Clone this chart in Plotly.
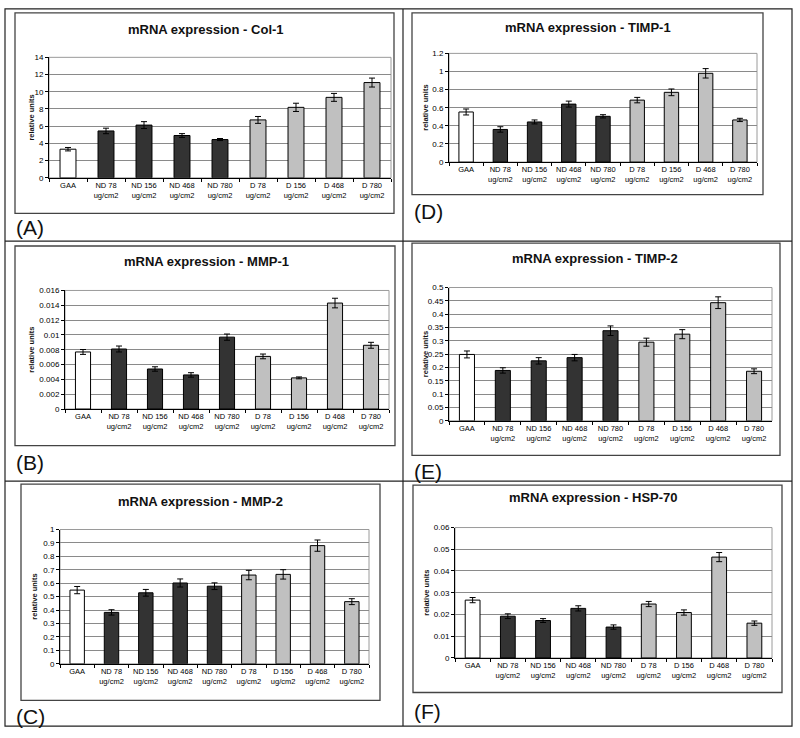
import plotly.graph_objects as go

W, H = 800, 738
FONT = "Arial, Liberation Sans, sans-serif"

categories = ["GAA", "ND 78", "ND 156", "ND 468", "ND 780", "D 78", "D 156", "D 468", "D 780"]
unit = "ug/cm2"
groups = ["GAA", "ND", "ND", "ND", "ND", "D", "D", "D", "D"]
group_colors = {"GAA": "#ffffff", "ND": "#333333", "D": "#c0c0c0"}

titles = ["mRNA expression - Col-1", "mRNA expression - TIMP-1", "mRNA expression - MMP-1",
          "mRNA expression - TIMP-2", "mRNA expression - MMP-2", "mRNA expression - HSP-70"]
letters = ["(A)", "(D)", "(B)", "(E)", "(C)", "(F)"]

col1_vals = [3.33, 5.45, 6.13, 4.92, 4.45, 6.73, 8.19, 9.35, 11.07]
col1_errs = [0.2, 0.32, 0.4, 0.22, 0.12, 0.4, 0.48, 0.46, 0.52]
timp1_vals = [0.553, 0.36, 0.443, 0.64, 0.505, 0.684, 0.77, 0.98, 0.465]
timp1_errs = [0.033, 0.03, 0.022, 0.033, 0.018, 0.03, 0.037, 0.052, 0.018]
mmp1_vals = [0.0077, 0.0081, 0.0054, 0.0046, 0.0097, 0.0071, 0.0042, 0.0143, 0.0086]
mmp1_errs = [0.00033, 0.0004, 0.0003, 0.0003, 0.00042, 0.00032, 0.00013, 0.00065, 0.0004]
timp2_vals = [0.249, 0.189, 0.225, 0.237, 0.338, 0.295, 0.325, 0.443, 0.186]
timp2_errs = [0.013, 0.01, 0.012, 0.012, 0.018, 0.015, 0.017, 0.022, 0.009]
mmp2_vals = [0.549, 0.383, 0.529, 0.602, 0.578, 0.661, 0.666, 0.88, 0.463]
mmp2_errs = [0.027, 0.02, 0.025, 0.03, 0.025, 0.035, 0.035, 0.042, 0.022]
hsp70_vals = [0.0266, 0.0192, 0.0172, 0.0228, 0.0142, 0.0248, 0.0209, 0.0464, 0.016]
hsp70_errs = [0.0012, 0.0011, 0.0009, 0.0012, 0.001, 0.0012, 0.0012, 0.0021, 0.001]

col1_ticks = [0, 2, 4, 6, 8, 10, 12, 14]
timp1_ticks = [0, 0.2, 0.4, 0.6, 0.8, 1, 1.2]
mmp1_ticks = [0, 0.002, 0.004, 0.006, 0.008, 0.01, 0.012, 0.014, 0.016]
timp2_ticks = [0, 0.05, 0.1, 0.15, 0.2, 0.25, 0.3, 0.35, 0.4, 0.45, 0.5]
mmp2_ticks = [0, 0.1, 0.2, 0.3, 0.4, 0.5, 0.6, 0.7, 0.8, 0.9, 1]
hsp70_ticks = [0, 0.01, 0.02, 0.03, 0.04, 0.05, 0.06]

values = [col1_vals, timp1_vals, mmp1_vals, timp2_vals, mmp2_vals, hsp70_vals]
errors = [col1_errs, timp1_errs, mmp1_errs, timp2_errs, mmp2_errs, hsp70_errs]
ticks = [col1_ticks, timp1_ticks, mmp1_ticks, timp2_ticks, mmp2_ticks, hsp70_ticks]

# layout geometry in pixels: plot area (l, r, t, b), chart box (l, r, t, b), title (x, y),
# y-title x, letter (x, y)
plots = [(49, 391, 54, 176), (449, 757, 50, 160), (65, 389, 290, 410),
         (449, 772, 287, 422), (60, 369, 532, 668), (455, 772, 530, 662)]
boxes = [(15, 394, 9, 212), (412, 763, 9, 193), (15, 395, 245, 447),
         (412, 780, 242, 457), (21, 380, 486, 705), (413, 782, 487, 697)]
title_pos = [(206, 26), (588, 24), (207, 261), (595, 258), (200, 504), (593, 500)]
ytitle_x = [32, 426, 32, 425, 35, 427]
letter_pos = [(14, 226), (412, 210), (14, 464), (412, 473), (14, 721), (412, 716)]

ticktext_x = [c if c == "GAA" else c + "<br>" + unit for c in categories]
bar_colors = [group_colors[g] for g in groups]

def px(x):
    return x / W

def py(y):
    return 1 - y / H

fig = go.Figure()
shapes = []
annotations = []

for i in range(6):
    n = "" if i == 0 else str(i + 1)
    xa, ya = "x" + n, "y" + n
    fig.add_trace(go.Bar(
        x=categories, y=values[i], xaxis=xa, yaxis=ya,
        marker=dict(color=bar_colors, line=dict(color="#000000", width=1)),
        error_y=dict(type="data", array=errors[i], color="#000000", thickness=1, width=3),
        showlegend=False,
    ))
    l, r, t, b = plots[i]
    tv = ticks[i]
    fig.layout["xaxis" + n] = dict(
        domain=[px(l), px(r)], anchor=ya, type="category",
        tickvals=categories, ticktext=ticktext_x, tickangle=0,
        tickfont=dict(family=FONT, size=7.5, color="#000000"),
        ticks="outside", ticklen=3, tickson="boundaries", tickcolor="#000000",
        showline=True, linecolor="#000000", linewidth=1, showgrid=False,
        range=[-0.5, 8.5], fixedrange=True,
    )
    fig.layout["yaxis" + n] = dict(
        domain=[py(b), py(t)], anchor=xa, range=[0, tv[-1]],
        tickvals=tv, ticktext=[f"{v:g}" for v in tv],
        tickfont=dict(family=FONT, size=8, color="#000000"),
        ticks="outside", ticklen=3, tickcolor="#000000",
        showline=True, linecolor="#000000", linewidth=1,
        showgrid=True, gridcolor="#8a8a8a", gridwidth=1, zeroline=False, fixedrange=True,
    )
    # plot area frame (gray)
    shapes.append(dict(type="rect", xref="paper", yref="paper",
                       x0=px(l), x1=px(r), y0=py(b), y1=py(t),
                       line=dict(color="#9a9a9a", width=1), layer="below"))
    # chart box
    bl, br, bt, bb = boxes[i]
    shapes.append(dict(type="rect", xref="paper", yref="paper",
                       x0=px(bl), x1=px(br), y0=py(bb), y1=py(bt),
                       line=dict(color="#444444", width=1.3), layer="below"))
    tx, ty = title_pos[i]
    annotations.append(dict(x=px(tx), y=py(ty), xref="paper", yref="paper",
                            text="<b>" + titles[i] + "</b>", showarrow=False,
                            xanchor="center", yanchor="middle",
                            font=dict(family=FONT, size=13, color="#111111")))
    annotations.append(dict(x=px(ytitle_x[i]), y=py((t + b) / 2), xref="paper", yref="paper",
                            text="<b>relative units</b>", showarrow=False, textangle=-90,
                            xanchor="center", yanchor="middle",
                            font=dict(family=FONT, size=7.5, color="#111111")))
    lx, ly = letter_pos[i]
    annotations.append(dict(x=px(lx), y=py(ly), xref="paper", yref="paper",
                            text=letters[i], showarrow=False,
                            xanchor="left", yanchor="middle",
                            font=dict(family=FONT, size=21, color="#111111")))

# outer table lines
line_style = dict(color="#222222", width=1.2)
shapes.append(dict(type="rect", xref="paper", yref="paper", x0=px(5), x1=px(792),
                   y0=py(731), y1=py(5), line=line_style, layer="below"))
shapes.append(dict(type="line", xref="paper", yref="paper", x0=px(403), x1=px(403),
                   y0=py(731), y1=py(5), line=line_style, layer="below"))
shapes.append(dict(type="line", xref="paper", yref="paper", x0=px(5), x1=px(792),
                   y0=py(240), y1=py(240), line=line_style, layer="below"))
shapes.append(dict(type="line", xref="paper", yref="paper", x0=px(5), x1=px(792),
                   y0=py(483), y1=py(483), line=line_style, layer="below"))

fig.update_layout(
    width=W, height=H, margin=dict(l=0, r=0, t=0, b=0),
    paper_bgcolor="#ffffff", plot_bgcolor="#ffffff",
    bargap=0.58, shapes=shapes, annotations=annotations,
    font=dict(family=FONT),
)

fig.write_html("out.html", config={"displayModeBar": False},
               post_script="document.body.style.margin='0';document.body.style.overflow='hidden';")
